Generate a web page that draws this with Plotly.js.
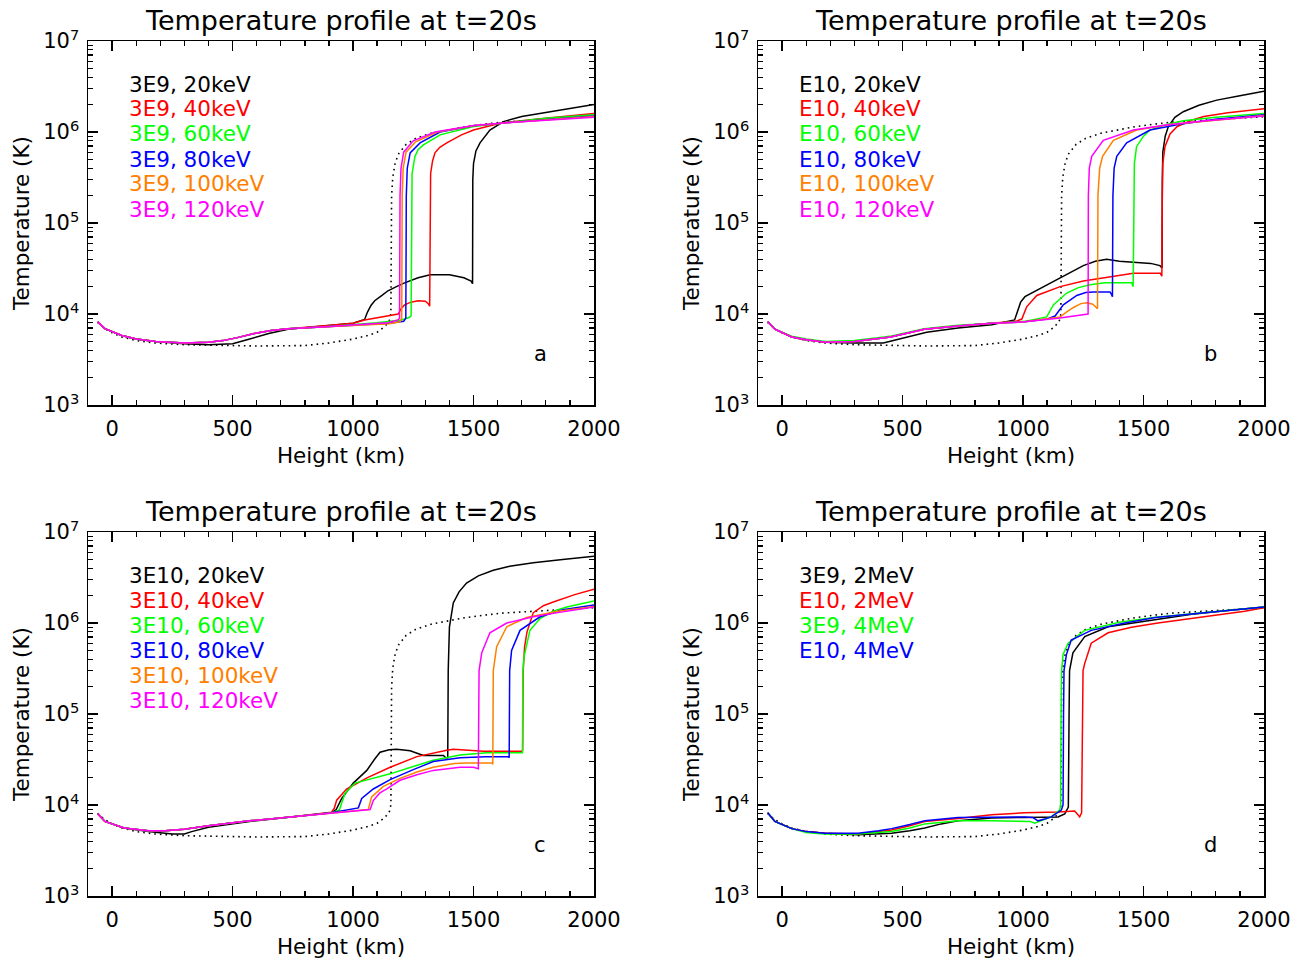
<!DOCTYPE html>
<html>
<head>
<meta charset="utf-8">
<script src="https://cdn.plot.ly/plotly-3.0.1.min.js"></script>
<style>html,body{margin:0;padding:0;background:#fff;}</style>
</head>
<body>
<div id="chart" style="width:1302px;height:963px;"></div>
<script>
// ---------------- DATA ----------------
const xTickVals = [0, 500, 1000, 1500, 2000];
const xTickText = ['0', '500', '1000', '1500', '2000'];
const yTickVals = [1e3, 1e4, 1e5, 1e6, 1e7];
const yTickText = ['10<sup>3</sup>', '10<sup>4</sup>', '10<sup>5</sup>', '10<sup>6</sup>', '10<sup>7</sup>'];
const xLimits = [-100, 2000];
const yLogLimits = [3, 7];
const panelTitle = 'Temperature profile at t=20s';
const xTitle = 'Height (km)';
const yTitle = 'Temperature (K)';
const panelLetters = ['a', 'b', 'c', 'd'];
const legendA = ['3E9, 20keV', '3E9, 40keV', '3E9, 60keV', '3E9, 80keV', '3E9, 100keV', '3E9, 120keV'];
const legendB = ['E10, 20keV', 'E10, 40keV', 'E10, 60keV', 'E10, 80keV', 'E10, 100keV', 'E10, 120keV'];
const legendC = ['3E10, 20keV', '3E10, 40keV', '3E10, 60keV', '3E10, 80keV', '3E10, 100keV', '3E10, 120keV'];
const legendD = ['3E9, 2MeV', 'E10, 2MeV', '3E9, 4MeV', 'E10, 4MeV'];

// initial (pre-flare) profile, dotted, same in every panel
const dotH = [-60,-30,0,40,100,180,300,450,600,800,900,1000,1060,1100,1130,1150,1157,1160,1165,1175,1190,1220,1260,1330,1470,1610,1750,1900,2000];
const dotT = [8.1e3,6.9e3,6.2e3,5.6e3,5.1e3,4.8e3,4.6e3,4.5e3,4.45e3,4.5e3,4.8e3,5.3e3,5.8e3,6.3e3,7.2e3,8.3e3,1.0e4,2.0e5,3.2e5,4.6e5,5.8e5,7.3e5,8.5e5,9.8e5,1.15e6,1.28e6,1.35e6,1.42e6,1.47e6];

// panel a : 3E9
const aBlackH = [-60,-30,40,100,180,300,400,500,560,650,730,870,1000,1048,1060,1075,1090,1120,1145,1180,1214,1270,1320,1400,1460,1490,1496,1497,1500,1510,1527,1568,1624,1700,1776,1880,2000];
const aBlackT = [8.2e3,6.9e3,5.8e3,5.3e3,5.0e3,4.7e3,4.6e3,4.7e3,5.2e3,6.1e3,6.8e3,7.3e3,7.9e3,8.7e3,1.05e4,1.25e4,1.4e4,1.6e4,1.8e4,2.0e4,2.2e4,2.5e4,2.7e4,2.7e4,2.5e4,2.3e4,2.15e4,3.0e5,4.5e5,6.2e5,7.6e5,1.05e6,1.3e6,1.48e6,1.6e6,1.8e6,2.0e6];
const aRedH = [-60,-30,40,100,180,300,400,460,520,590,660,730,870,1000,1048,1100,1145,1187,1200,1214,1240,1270,1300,1312,1318,1319,1322,1330,1340,1360,1389,1450,1500,1610,1776,2000];
const aRedT = [8.2e3,6.9e3,5.8e3,5.3e3,5.0e3,4.8e3,4.9e3,5.1e3,5.5e3,6.1e3,6.6e3,6.9e3,7.4e3,7.9e3,8.6e3,9.1e3,9.5e3,1.0e4,1.15e4,1.26e4,1.35e4,1.4e4,1.38e4,1.3e4,1.22e4,2.0e5,3.5e5,4.8e5,5.9e5,6.8e5,7.6e5,9.3e5,1.05e6,1.25e6,1.4e6,1.6e6];
const aGreenH = [-60,-30,40,100,180,300,400,460,520,590,660,730,870,1000,1100,1200,1235,1241,1243,1245,1257,1270,1292,1361,1500,1650,1800,2000];
const aGreenT = [8.2e3,6.9e3,5.8e3,5.3e3,5.0e3,4.8e3,4.9e3,5.1e3,5.5e3,6.1e3,6.6e3,6.9e3,7.2e3,7.6e3,8.0e3,8.6e3,9.2e3,9.6e3,2.0e5,3.5e5,5.4e5,6.4e5,7.2e5,9.3e5,1.15e6,1.28e6,1.42e6,1.55e6];
const aBlueH = [-60,-30,40,100,180,300,400,460,520,590,660,730,870,1000,1150,1210,1219,1221,1225,1237,1278,1361,1500,1650,2000];
const aBlueT = [8.2e3,6.9e3,5.8e3,5.3e3,5.0e3,4.8e3,4.9e3,5.1e3,5.5e3,6.1e3,6.6e3,6.9e3,7.2e3,7.5e3,7.9e3,8.3e3,9.0e3,2.0e5,4.0e5,5.9e5,7.6e5,1.0e6,1.17e6,1.27e6,1.5e6];
const aOrangeH = [-60,-30,40,100,180,300,400,460,520,590,660,730,870,1000,1150,1195,1202,1204,1208,1220,1260,1350,1500,1650,2000];
const aOrangeT = [8.2e3,6.9e3,5.8e3,5.3e3,5.0e3,4.8e3,4.9e3,5.1e3,5.5e3,6.1e3,6.6e3,6.9e3,7.2e3,7.5e3,7.8e3,8.2e3,9.0e3,2.0e5,4.0e5,6.0e5,7.8e5,1.0e6,1.17e6,1.27e6,1.48e6];
const aMagentaH = [-60,-30,40,100,180,300,400,460,520,590,660,730,870,1000,1145,1186,1193,1195,1199,1210,1250,1340,1500,1650,2000];
const aMagentaT = [8.2e3,6.9e3,5.8e3,5.3e3,5.0e3,4.8e3,4.9e3,5.1e3,5.5e3,6.1e3,6.6e3,6.9e3,7.2e3,7.6e3,8.0e3,8.6e3,9.0e3,2.0e5,4.0e5,6.0e5,8.0e5,1.0e6,1.18e6,1.27e6,1.45e6];

// panel b : E10
const bBlackH = [-60,-30,40,100,180,300,420,520,600,730,870,965,975,990,1008,1071,1154,1250,1300,1347,1400,1458,1530,1568,1577,1578,1580,1590,1603,1630,1665,1730,1804,1900,2000];
const bBlackT = [8.2e3,6.8e3,5.6e3,5.2e3,4.9e3,4.8e3,4.8e3,5.6e3,6.3e3,7.0e3,7.6e3,8.6e3,1.05e4,1.35e4,1.55e4,1.9e4,2.5e4,3.4e4,3.8e4,4.0e4,3.8e4,3.7e4,3.6e4,3.4e4,3.2e4,3.0e5,6.0e5,9.0e5,1.15e6,1.45e6,1.67e6,1.97e6,2.24e6,2.5e6,2.8e6];
const bRedH = [-60,-30,40,100,180,300,450,520,590,730,870,970,995,1005,1015,1057,1154,1250,1320,1458,1570,1576,1578,1580,1589,1610,1640,1700,1750,1850,2000];
const bRedT = [8.2e3,6.8e3,5.6e3,5.2e3,4.9e3,5.0e3,5.6e3,6.2e3,6.8e3,7.4e3,7.9e3,8.3e3,8.8e3,1.05e4,1.2e4,1.6e4,2.0e4,2.3e4,2.45e4,2.8e4,2.8e4,2.6e4,2.0e5,4.5e5,6.9e5,9.5e5,1.15e6,1.35e6,1.48e6,1.63e6,1.8e6];
const bGreenH = [-60,-30,40,100,180,300,450,520,590,730,870,1007,1098,1110,1126,1181,1230,1278,1340,1389,1451,1457,1459,1462,1471,1500,1527,1600,1665,1800,2000];
const bGreenT = [8.2e3,6.8e3,5.7e3,5.3e3,5.0e3,5.1e3,5.7e3,6.3e3,6.9e3,7.5e3,7.9e3,8.3e3,9.3e3,1.05e4,1.26e4,1.7e4,1.95e4,2.1e4,2.2e4,2.2e4,2.2e4,2.0e4,2.0e5,4.5e5,6.9e5,9.0e5,1.05e6,1.22e6,1.33e6,1.45e6,1.6e6];
const bBlueH = [-60,-30,40,100,180,300,450,520,590,730,870,1007,1100,1133,1150,1167,1223,1260,1292,1361,1368,1371,1373,1378,1389,1430,1527,1650,1800,2000];
const bBlueT = [8.2e3,6.8e3,5.6e3,5.2e3,4.9e3,5.0e3,5.6e3,6.2e3,6.8e3,7.4e3,7.9e3,8.2e3,8.8e3,9.5e3,1.1e4,1.26e4,1.6e4,1.72e4,1.75e4,1.75e4,1.62e4,1.55e4,2.0e5,4.0e5,5.4e5,7.6e5,1.05e6,1.22e6,1.38e6,1.55e6];
const bOrangeH = [-60,-30,40,100,180,300,450,520,590,730,870,1007,1154,1180,1209,1240,1264,1290,1306,1309,1311,1318,1330,1375,1471,1600,1800,2000];
const bOrangeT = [8.2e3,6.8e3,5.6e3,5.2e3,4.9e3,5.0e3,5.6e3,6.2e3,6.8e3,7.4e3,7.9e3,8.2e3,9.3e3,1.05e4,1.18e4,1.3e4,1.33e4,1.28e4,1.16e4,1.14e4,2.0e5,4.0e5,5.4e5,8.1e5,1.05e6,1.2e6,1.35e6,1.52e6];
const bMagentaH = [-60,-30,40,100,180,300,450,520,590,730,870,1007,1145,1270,1271,1275,1285,1333,1458,1600,1750,2000];
const bMagentaT = [8.2e3,6.8e3,5.6e3,5.2e3,4.9e3,5.0e3,5.6e3,6.2e3,6.8e3,7.4e3,7.9e3,8.2e3,9.0e3,1.0e4,2.0e5,4.0e5,5.4e5,8.1e5,1.05e6,1.2e6,1.32e6,1.5e6];

// panel c : 3E10
const cBlackH = [-60,-30,50,150,250,300,330,400,570,740,910,930,953,1001,1057,1090,1112,1150,1181,1237,1292,1375,1385,1393,1395,1400,1416,1440,1471,1520,1582,1650,1748,1870,2000];
const cBlackT = [8.0e3,6.6e3,5.6e3,5.1e3,4.8e3,4.8e3,5.1e3,5.7e3,6.6e3,7.3e3,8.2e3,8.9e3,1.18e4,1.74e4,2.4e4,3.2e4,3.8e4,4.05e4,4.1e4,3.95e4,3.5e4,3.5e4,3.3e4,3.3e4,3.0e5,9.0e5,1.66e6,2.2e6,2.75e6,3.3e6,3.8e6,4.2e6,4.6e6,5.0e6,5.4e6];
const cRedH = [-60,-30,50,150,220,300,400,570,740,910,922,932,973,1060,1154,1265,1389,1416,1541,1700,1704,1706,1712,1722,1748,1790,1831,1920,2000];
const cRedT = [8.0e3,6.6e3,5.6e3,5.2e3,5.2e3,5.4e3,5.9e3,6.7e3,7.4e3,8.3e3,9.2e3,1.13e4,1.5e4,2.0e4,2.6e4,3.4e4,4.0e4,4.1e4,3.9e4,3.9e4,4.0e4,3.0e5,5.5e5,8.0e5,1.3e6,1.55e6,1.7e6,2.05e6,2.35e6];
const cGreenH = [-60,-30,50,150,220,300,400,570,740,910,943,955,967,1008,1080,1154,1250,1333,1444,1555,1703,1705,1710,1734,1776,1830,1887,2000];
const cGreenT = [8.0e3,6.6e3,5.6e3,5.2e3,5.2e3,5.4e3,5.9e3,6.7e3,7.4e3,8.2e3,8.8e3,1.1e4,1.35e4,1.74e4,1.95e4,2.2e4,2.65e4,3.1e4,3.55e4,3.76e4,3.76e4,3.0e5,4.3e5,8.3e5,1.12e6,1.35e6,1.5e6,1.75e6];
const cBlueH = [-60,-30,50,150,220,300,400,570,740,910,1022,1036,1084,1154,1250,1333,1444,1550,1644,1648,1650,1658,1693,1776,1870,2000];
const cBlueT = [8.0e3,6.6e3,5.6e3,5.2e3,5.2e3,5.4e3,5.9e3,6.7e3,7.4e3,8.2e3,9.3e3,1.18e4,1.5e4,1.9e4,2.45e4,3.0e4,3.3e4,3.4e4,3.4e4,3.3e4,3.0e5,5.0e5,8.3e5,1.17e6,1.4e6,1.58e6];
const cOrangeH = [-60,-30,50,150,220,300,400,570,740,910,1063,1077,1126,1195,1265,1333,1420,1471,1576,1580,1582,1596,1638,1720,1850,2000];
const cOrangeT = [8.0e3,6.6e3,5.6e3,5.2e3,5.2e3,5.4e3,5.9e3,6.7e3,7.4e3,8.2e3,8.9e3,1.23e4,1.6e4,1.96e4,2.3e4,2.6e4,2.85e4,2.9e4,2.9e4,2.8e4,3.0e5,5.5e5,9.1e5,1.15e6,1.35e6,1.52e6];
const cMagentaH = [-60,-30,50,150,220,300,400,570,740,910,1000,1071,1084,1110,1140,1195,1265,1333,1444,1500,1520,1523,1534,1568,1638,1748,1850,2000];
const cMagentaT = [8.0e3,6.6e3,5.6e3,5.2e3,5.2e3,5.4e3,5.9e3,6.7e3,7.4e3,8.2e3,8.5e3,8.9e3,1.12e4,1.35e4,1.5e4,1.87e4,2.15e4,2.4e4,2.6e4,2.6e4,2.5e4,3.0e5,4.7e5,7.8e5,1.0e6,1.17e6,1.3e6,1.5e6];

// panel d : high-energy beams
const dBlackH = [-60,-30,40,100,177,315,454,530,592,660,730,869,1007,1145,1173,1188,1191,1193,1207,1256,1353,1560,1700,1850,2000];
const dBlackT = [8.2e3,6.6e3,5.5e3,5.1e3,4.9e3,4.7e3,4.9e3,5.2e3,5.6e3,6.2e3,6.7e3,7.2e3,7.3e3,7.4e3,8.0e3,9.5e3,1.0e5,3.0e5,4.7e5,7.1e5,9.1e5,1.1e6,1.25e6,1.37e6,1.5e6];
const dRedH = [-60,-30,40,100,177,315,454,530,592,730,869,1007,1145,1214,1228,1235,1243,1247,1249,1256,1283,1353,1450,1560,1698,1837,1920,2000];
const dRedT = [8.2e3,6.6e3,5.5e3,5.1e3,4.9e3,4.8e3,5.3e3,5.9e3,6.6e3,7.1e3,7.8e3,8.2e3,8.4e3,8.6e3,7.8e3,7.4e3,8.2e3,1.0e5,3.0e5,3.6e5,6.0e5,7.8e5,9.0e5,1.0e6,1.12e6,1.25e6,1.35e6,1.47e6];
const dGreenH = [-60,-30,40,100,177,315,454,530,592,730,869,1007,1030,1048,1080,1117,1152,1156,1158,1160,1166,1187,1256,1400,1550,1700,1850,2000];
const dGreenT = [8.2e3,6.6e3,5.5e3,5.0e3,4.8e3,4.8e3,5.1e3,5.6e3,6.2e3,6.7e3,6.7e3,6.7e3,6.6e3,6.3e3,6.8e3,7.4e3,8.8e3,1.0e4,1.0e5,3.0e5,4.5e5,6.0e5,8.3e5,1.02e6,1.16e6,1.27e6,1.38e6,1.5e6];
const dBlueH = [-60,-30,40,100,177,315,400,454,530,592,730,869,1007,1040,1062,1090,1117,1159,1166,1168,1170,1180,1200,1283,1422,1550,1698,1850,2000];
const dBlueT = [8.2e3,6.6e3,5.5e3,5.1e3,4.9e3,4.9e3,5.2e3,5.5e3,6.1e3,6.7e3,7.3e3,7.4e3,7.4e3,7.3e3,6.7e3,7.0e3,7.4e3,8.8e3,1.0e4,1.0e5,3.0e5,4.5e5,6.5e5,8.3e5,1.0e6,1.15e6,1.26e6,1.38e6,1.5e6];

// ---------------- STYLE ----------------
const COL = {black:'#000000', red:'#ff0000', green:'#00ff00', blue:'#0000ff', orange:'#ff8000', magenta:'#ff00ff'};
const FONT = 'DejaVu Sans, Verdana, sans-serif';
const W = 1302, H = 963;

function line(h, t, color, ax, dash) {
  return {
    x: h, y: t, type: 'scatter', mode: 'lines',
    xaxis: 'x' + (ax === 1 ? '' : ax), yaxis: 'y' + (ax === 1 ? '' : ax),
    line: {color: color, width: dash ? 1.6 : 1.5, dash: dash || 'solid'},
    hoverinfo: 'skip', showlegend: false
  };
}
const DOT = '1.6px,4px';
const traces = [];
[1, 2, 3, 4].forEach(ax => traces.push(line(dotH, dotT, COL.black, ax, DOT)));
const panelSets = [
  [1, [[aBlackH, aBlackT, COL.black], [aRedH, aRedT, COL.red], [aGreenH, aGreenT, COL.green], [aBlueH, aBlueT, COL.blue], [aOrangeH, aOrangeT, COL.orange], [aMagentaH, aMagentaT, COL.magenta]]],
  [2, [[bBlackH, bBlackT, COL.black], [bRedH, bRedT, COL.red], [bGreenH, bGreenT, COL.green], [bBlueH, bBlueT, COL.blue], [bOrangeH, bOrangeT, COL.orange], [bMagentaH, bMagentaT, COL.magenta]]],
  [3, [[cBlackH, cBlackT, COL.black], [cRedH, cRedT, COL.red], [cGreenH, cGreenT, COL.green], [cBlueH, cBlueT, COL.blue], [cOrangeH, cOrangeT, COL.orange], [cMagentaH, cMagentaT, COL.magenta]]],
  [4, [[dBlackH, dBlackT, COL.black], [dRedH, dRedT, COL.red], [dGreenH, dGreenT, COL.green], [dBlueH, dBlueT, COL.blue]]]
];
panelSets.forEach(([ax, set]) => set.forEach(([h, t, c]) => traces.push(line(h, t, c, ax))));

// minor log ticks 2..9 per decade
const yMinor = [];
for (let d = yLogLimits[0]; d < yLogLimits[1]; d++) for (let m = 2; m <= 9; m++) yMinor.push(m * Math.pow(10, d));

function xAxis(domain, anchor) {
  return {
    domain: domain, anchor: anchor, range: xLimits, fixedrange: true,
    tickmode: 'array', tickvals: xTickVals, ticktext: xTickText,
    ticks: 'inside', ticklen: 10, tickwidth: 1.3, tickcolor: '#000',
    minor: {ticks: 'inside', ticklen: 5, tickwidth: 1.3, tickcolor: '#000', tickmode: 'linear', tick0: 0, dtick: 100, showgrid: false},
    showline: true, linewidth: 1.5, linecolor: '#000', mirror: 'allticks',
    showgrid: false, zeroline: false, automargin: false,
    tickfont: {family: FONT, size: 21, color: '#000'}, ticklabelstandoff: 4,
    title: {text: xTitle, font: {family: FONT, size: 21.5, color: '#000'}, standoff: 8}
  };
}
function yAxis(domain, anchor) {
  return {
    domain: domain, anchor: anchor, type: 'log', range: yLogLimits, fixedrange: true,
    tickmode: 'array', tickvals: yTickVals, ticktext: yTickText,
    ticks: 'inside', ticklen: 10, tickwidth: 1.3, tickcolor: '#000',
    minor: {ticks: 'inside', ticklen: 5, tickwidth: 1.3, tickcolor: '#000', tickmode: 'array', tickvals: yMinor, showgrid: false},
    showline: true, linewidth: 1.5, linecolor: '#000', mirror: 'allticks',
    showgrid: false, zeroline: false, automargin: false,
    tickfont: {family: FONT, size: 21, color: '#000'}, ticklabelstandoff: 3,
    title: {text: yTitle, font: {family: FONT, size: 21.5, color: '#000'}, standoff: 7}
  };
}
const xDomL = [88 / W, 594 / W], xDomR = [758 / W, 1264 / W];
const yDomT = [1 - 405 / H, 1 - 41 / H], yDomB = [1 - 896 / H, 1 - 532 / H];

const annotations = [];
function ann(text, px, py, color, size, xanchor) {
  annotations.push({text: text, x: px / W, y: 1 - py / H, xref: 'paper', yref: 'paper',
    xanchor: xanchor || 'center', yanchor: 'middle', showarrow: false,
    font: {family: FONT, size: size, color: color}});
}
const panelOrigins = [[88, 41], [758, 41], [88, 532], [758, 532]];
const legends = [legendA, legendB, legendC, legendD];
const legendColors = [COL.black, COL.red, COL.green, COL.blue, COL.orange, COL.magenta];
panelOrigins.forEach(([ox, oy], i) => {
  ann(panelTitle, ox + 253, oy - 21, '#000', 27, 'center');
  legends[i].forEach((txt, k) => ann(txt, ox + 39, oy + 43 + 25 * k, legendColors[k], 21.5, 'left'));
  ann(panelLetters[i], ox + 452, oy + 313, '#000', 21, 'center');
});

const layout = {
  width: W, height: H, margin: {l: 0, r: 0, t: 0, b: 0},
  paper_bgcolor: '#fff', plot_bgcolor: '#fff', showlegend: false,
  font: {family: FONT, color: '#000', size: 21},
  xaxis: xAxis(xDomL, 'y'), yaxis: yAxis(yDomT, 'x'),
  xaxis2: xAxis(xDomR, 'y2'), yaxis2: yAxis(yDomT, 'x2'),
  xaxis3: xAxis(xDomL, 'y3'), yaxis3: yAxis(yDomB, 'x3'),
  xaxis4: xAxis(xDomR, 'y4'), yaxis4: yAxis(yDomB, 'x4'),
  annotations: annotations
};
Plotly.newPlot('chart', traces, layout, {displayModeBar: false, staticPlot: true});
</script>
</body>
</html>
